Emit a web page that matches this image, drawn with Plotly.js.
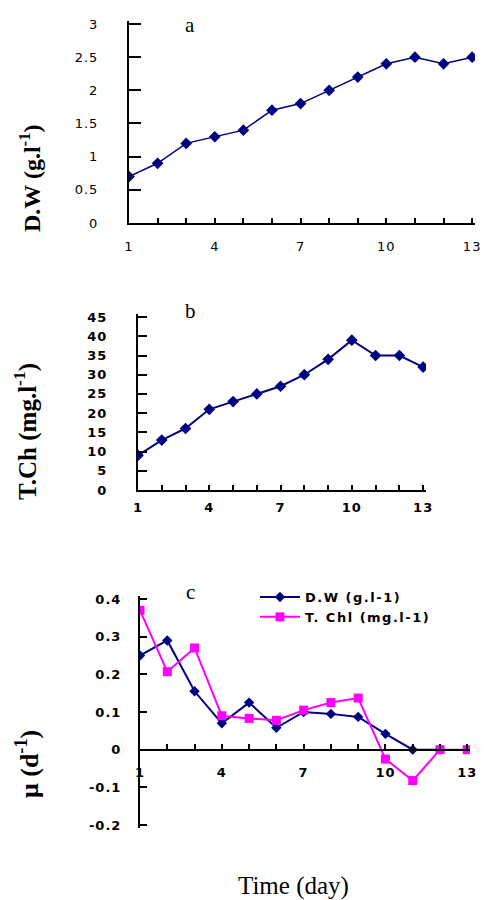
<!DOCTYPE html>
<html><head><meta charset="utf-8">
<script src="https://cdn.plot.ly/plotly-3.0.1.min.js"></script>
<style>html,body{margin:0;padding:0;background:#fff}#c{width:490px;height:900px}</style>
</head><body><div id="c"></div>
<script>
const days = [1,2,3,4,5,6,7,8,9,10,11,12,13];
const dryWeight = [0.7,0.9,1.2,1.3,1.4,1.7,1.8,2.0,2.2,2.4,2.5,2.4,2.5];
const totalChl = [9,13,16,21,23,25,27,30,34,39,35,35,32];
const muDays = [1,2,3,4,5,6,7,8,9,10,11,12];
const muDW = [0.25,0.29,0.155,0.07,0.125,0.058,0.1,0.095,0.087,0.042,0,0];
const muChlDays = [1,2,3,4,5,6,7,8,9,10,11,12,13];
const muChl = [0.37,0.207,0.27,0.09,0.083,0.078,0.105,0.125,0.137,-0.025,-0.082,0,0];
const xTickLabels = ['1','','','4','','','7','','','10','','','13'];
const yTicksA = [0,0.5,1,1.5,2,2.5,3];
const yLabelsA = ['0','0.5','1','1.5','2','2.5','3'];
const yTicksB = [0,5,10,15,20,25,30,35,40,45];
const yLabelsB = ['0','5','10','15','20','25','30','35','40','45'];
const yTicksC = [-0.2,-0.1,0,0.1,0.2,0.3,0.4];
const yLabelsC = ['-0.2','-0.1','0','0.1','0.2','0.3','0.4'];
const seriesNames = ['D.W (g.l-1)','T. Chl (mg.l-1)'];

const W=490,H=900;
const px=v=>v/W, py=v=>1-v/H;
const navy='#000080', mag='#FF00FF';
const sp=(t,s)=>t===''?'':'<span style="letter-spacing:'+s+'px">'+t+'</span>';
const spA=(arr,s)=>arr.map(t=>sp(t,s));

const traces=[
 {x:days,y:dryWeight,xaxis:'x',yaxis:'y',mode:'lines+markers',showlegend:false,
  line:{color:navy,width:1.5},marker:{symbol:'diamond',size:9,color:navy}},
 {x:days,y:totalChl,xaxis:'x2',yaxis:'y2',mode:'lines+markers',showlegend:false,
  line:{color:navy,width:2},marker:{symbol:'diamond',size:9,color:navy}},
 {x:muDays,y:muDW,xaxis:'x3',yaxis:'y3',mode:'lines+markers',name:sp(seriesNames[0],1.5),
  line:{color:navy,width:2},marker:{symbol:'diamond',size:8,color:navy}},
 {x:muChlDays,y:muChl,xaxis:'x3',yaxis:'y3',mode:'lines+markers',name:sp(seriesNames[1],1.5),
  line:{color:mag,width:2},marker:{symbol:'square',size:9,color:mag}}
];

const tickFontA={family:'DejaVu Sans, Liberation Sans, Arial',size:13,color:'#000'};
const tickFontB={family:'DejaVu Sans, Liberation Sans, Arial',size:13,color:'#000',weight:'bold'};
function xax(domain,range,anchor,font,standoff,lw,extra){
  return Object.assign({domain:domain,anchor:anchor,range:range,tickmode:'array',tickvals:days,
   ticktext:spA(xTickLabels,1),ticks:'inside',ticklen:5,
   tickwidth:2,tickcolor:'#000',showline:true,linecolor:'#000',linewidth:lw,showgrid:false,zeroline:false,
   tickfont:font,ticklabelstandoff:standoff,fixedrange:true},extra||{});
}
function yax(domain,anchor,range,vals,labels,font,standoff,len,lw){
  return {domain:domain,anchor:anchor,range:range,tickmode:'array',tickvals:vals,ticktext:spA(labels,1),
   ticks:'inside',ticklen:len,tickwidth:2,
   tickcolor:'#000',showline:true,linecolor:'#000',linewidth:lw,showgrid:false,zeroline:false,
   tickfont:font,ticklabelstandoff:standoff,fixedrange:true};
}
const ann=(text,x,y,size,bold,angle)=>({text:text,x:px(x),y:py(y),xref:'paper',yref:'paper',showarrow:false,
  xanchor:'center',yanchor:'middle',textangle:angle||0,
  font:{family:'Liberation Serif, Times New Roman',size:size,color:'#000',weight:bold?'bold':'normal'}});
const layout={
 width:W,height:H,margin:{l:0,r:0,t:0,b:0},paper_bgcolor:'#fff',plot_bgcolor:'rgba(0,0,0,0)',
 xaxis:xax([px(129),px(475)],[1,13.1],'y',tickFontA,10,2),
 yaxis:yax([py(223),py(21)],'x',[0,3.045],yTicksA,yLabelsA,tickFontA,26,12,2),
 xaxis2:xax([px(138),px(426)],[1,13.12],'y2',tickFontB,4,2),
 yaxis2:yax([py(490),py(314)],'x2',[0,45.8],yTicksB,yLabelsB,tickFontB,26,9,2),
 xaxis3:xax([px(140),px(470)],[1,13.1],'free',tickFontB,10,2,{position:py(750)}),
 yaxis3:yax([py(828),py(596)],'x3',[-0.208,0.408],yTicksC,yLabelsC,tickFontB,14,7,2),
 legend:{x:px(255),y:py(582),xanchor:'left',yanchor:'top',bgcolor:'rgba(0,0,0,0)',
   font:{family:'DejaVu Sans, Liberation Sans, Arial',size:13,color:'#000',weight:'bold'},itemwidth:40},
 annotations:[
  ann('a',190,25,21,false),
  ann('b',190,311,21,false),
  ann('c',190,592,21,false),
  ann('D.W (g.l<sup>-1</sup>)',30,178,24,true,-90),
  ann('T.Ch (mg.l<sup>-1</sup>)',25,432,25,true,-90),
  ann('μ (d<sup>-1</sup>)',27,764,26,true,-90),
  ann('Time (day)',293,886,25,false)
 ]
};
Plotly.newPlot('c',traces,layout,{staticPlot:true,displayModeBar:false});
</script></body></html>
